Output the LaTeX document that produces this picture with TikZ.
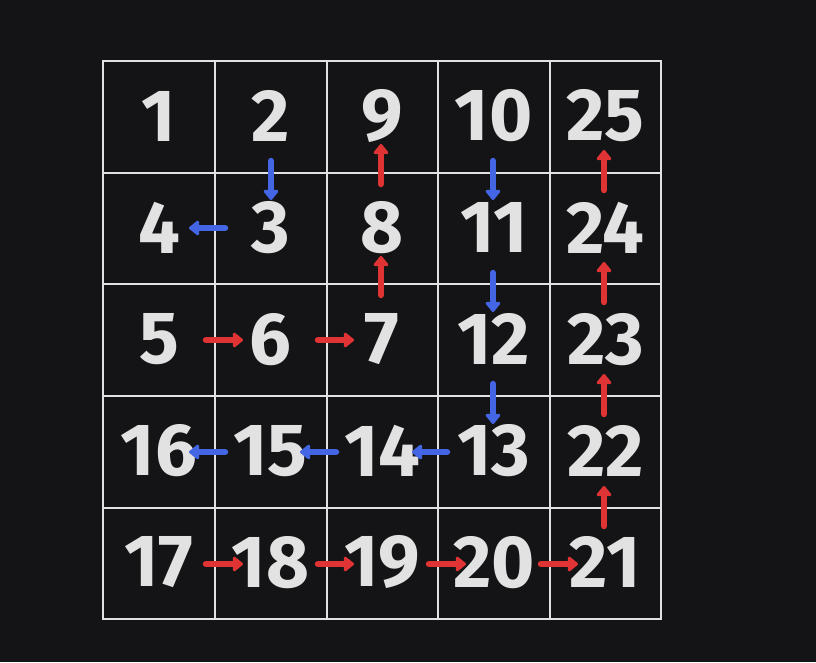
\documentclass[tikz,border=0pt]{standalone}
\usepackage{fontspec}
\setmainfont{Fira Sans}
\usetikzlibrary{arrows.meta,calc}
\definecolor{bg}{HTML}{141416}
\definecolor{ink}{HTML}{E2E2E2}
\definecolor{blu}{HTML}{4466E4}
\definecolor{rd}{HTML}{E03434}
\begin{document}
\begin{tikzpicture}[x=1pt,y=-1pt,
  num/.style={text=ink,font=\fontsize{74}{74}\selectfont\bfseries,inner sep=0pt,anchor=center},
  gridline/.style={draw=ink,line width=2.4pt},
  arr/.style={line width=6.5pt,line cap=round,-{Triangle[round,length=11pt,width=17pt]}},
  barr/.style={arr,draw=blu,fill=blu},
  rarr/.style={arr,draw=rd,fill=rd}]
\fill[bg] (0,0) rectangle (816,662);
\useasboundingbox (0,0) rectangle (816,662);
% grid
\draw[gridline] (103,61) rectangle (661,619);
\foreach \x in {215,327,438,550} \draw[gridline] (\x,61) -- (\x,619);
\foreach \y in {173,284,396,508} \draw[gridline] (103,\y) -- (661,\y);
% numbers: row, col
\foreach \n/\c/\r in {1/0/0,2/1/0,9/2/0,10/3/0,25/4/0,
                      4/0/1,3/1/1,8/2/1,11/3/1,24/4/1,
                      5/0/2,6/1/2,7/2/2,12/3/2,23/4/2,
                      16/0/3,15/1/3,14/2/3,13/3/3,22/4/3,
                      17/0/4,18/1/4,19/2/4,20/3/4,21/4/4}
  \node[num] (n\n) at ({159+111.6*\c},{116+111.6*\r}) {\n};
% coordinates for arrow ends
\coordinate (a2s) at (271,161); \coordinate (a2e) at (271,200);
\coordinate (a3s) at (225,228); \coordinate (a3e) at (189,228);
\coordinate (a5s) at (206,340); \coordinate (a5e) at (243,340);
\coordinate (a6s) at (318,340); \coordinate (a6e) at (354,340);
\coordinate (a7s) at (381,295); \coordinate (a7e) at (381,256);
\coordinate (a8s) at (381,184); \coordinate (a8e) at (381,144);
\coordinate (a10s) at (493,161); \coordinate (a10e) at (493,200);
\coordinate (a11s) at (493,273); \coordinate (a11e) at (493,312);
\coordinate (a12s) at (493,384); \coordinate (a12e) at (493,424);
\coordinate (a13s) at (447,452); \coordinate (a13e) at (412,452);
\coordinate (a14s) at (336,452); \coordinate (a14e) at (300,452);
\coordinate (a15s) at (225,452); \coordinate (a15e) at (189,452);
\coordinate (a17s) at (206,564); \coordinate (a17e) at (243,564);
\coordinate (a18s) at (318,564); \coordinate (a18e) at (354,564);
\coordinate (a19s) at (429,564); \coordinate (a19e) at (466,564);
\coordinate (a20s) at (541,564); \coordinate (a20e) at (578,564);
\coordinate (a21s) at (604,526); \coordinate (a21e) at (604,486);
\coordinate (a22s) at (604,414); \coordinate (a22e) at (604,374);
\coordinate (a23s) at (604,302); \coordinate (a23e) at (604,262);
\coordinate (a24s) at (604,190); \coordinate (a24e) at (604,150);
\foreach \k in {2,3,10,11,12,13,14,15} \draw[barr] (a\k s) -- (a\k e);
\foreach \k in {5,6,7,8,17,18,19,20,21,22,23,24} \draw[rarr] (a\k s) -- (a\k e);
\end{tikzpicture}
\end{document}
